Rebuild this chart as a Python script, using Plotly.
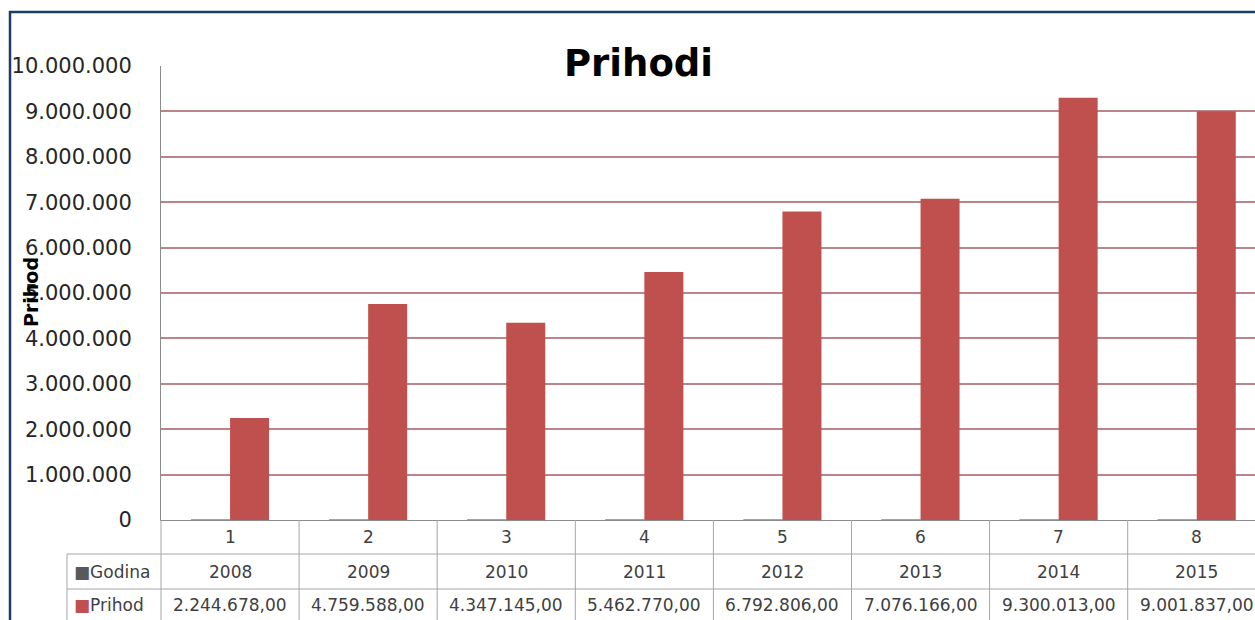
import plotly.graph_objects as go

# ---------------- data ----------------
categories = ["1", "2", "3", "4", "5", "6", "7", "8"]
godina = [2008, 2009, 2010, 2011, 2012, 2013, 2014, 2015]
prihod = [2244678.00, 4759588.00, 4347145.00, 5462770.00,
          6792806.00, 7076166.00, 9300013.00, 9001837.00]
y_ticks = [0, 1000000, 2000000, 3000000, 4000000, 5000000,
           6000000, 7000000, 8000000, 9000000, 10000000]
y_tick_labels = ["0", "1.000.000", "2.000.000", "3.000.000", "4.000.000",
                 "5.000.000", "6.000.000", "7.000.000", "8.000.000",
                 "9.000.000", "10.000.000"]
series_names = ["Godina", "Prihod"]
title_text = "Prihodi"
y_title = "Prihod"


def fmt_hr(v):
    s = f"{v:,.2f}"
    return s.replace(",", "X").replace(".", ",").replace("X", ".")


prihod_labels = [fmt_hr(v) for v in prihod]
godina_labels = [str(v) for v in godina]

# ---------------- geometry ----------------
W, H = 1255, 620
L, R, T, B = 161, 0, 66, 520          # plot area in px
PW = W - L - R
PH = B - T
CAT_W = 138.1                          # px per category
x0 = -0.5
x1 = x0 + PW / CAT_W


def xp(px):
    return (px - L) / PW


def yp(py):
    return (B - py) / PH


def xd2p(xd):
    return (xd - x0) / (x1 - x0)


RED = "#C0504D"
GRAY = "#595959"
TXT = "#333333"
LINE = "#A6A6A6"
FONT = "DejaVu Sans"

fig = go.Figure()
fig.add_trace(go.Bar(x=categories, y=godina, name=series_names[0],
                     marker=dict(color=GRAY, line=dict(color="#8C8C8C", width=1))))
fig.add_trace(go.Bar(x=categories, y=prihod, name=series_names[1],
                     marker=dict(color=RED, line=dict(width=0))))

shapes = []
# table vertical lines at category boundaries
for k in range(len(categories) + 1):
    xb = xd2p(k - 0.5)
    if xb > 1.0001:
        continue
    shapes.append(dict(type="line", xref="paper", yref="paper",
                       x0=xb, x1=xb, y0=yp(520), y1=yp(630),
                       line=dict(color=LINE, width=1)))
# table horizontal lines
for py in (554, 589):
    shapes.append(dict(type="line", xref="paper", yref="paper",
                       x0=xp(67), x1=1, y0=yp(py), y1=yp(py),
                       line=dict(color=LINE, width=1)))
# header column left edge
shapes.append(dict(type="line", xref="paper", yref="paper",
                   x0=xp(67), x1=xp(67), y0=yp(554), y1=yp(630),
                   line=dict(color=LINE, width=1)))
# chart border (dark blue, left and top)
shapes.append(dict(type="line", xref="paper", yref="paper",
                   x0=xp(10), x1=xp(10), y0=yp(11), y1=yp(630),
                   line=dict(color="#1F3B6E", width=2.5)))
shapes.append(dict(type="line", xref="paper", yref="paper",
                   x0=xp(9), x1=xp(1260), y0=yp(12), y1=yp(12),
                   line=dict(color="#1F3B6E", width=2.5)))

annotations = []
tfont = dict(family=FONT, size=17, color="#404040")
for i, c in enumerate(categories):
    xc = xd2p(i)
    annotations.append(dict(x=xc, y=yp(537), xref="paper", yref="paper",
                            text=c, showarrow=False, font=tfont,
                            xanchor="center", yanchor="middle"))
    annotations.append(dict(x=xc, y=yp(572), xref="paper", yref="paper",
                            text=godina_labels[i], showarrow=False, font=tfont,
                            xanchor="center", yanchor="middle"))
    annotations.append(dict(x=xc, y=yp(605), xref="paper", yref="paper",
                            text=prihod_labels[i], showarrow=False, font=tfont,
                            xanchor="center", yanchor="middle"))
# row headers with legend keys
for name, col, py in ((series_names[0], GRAY, 572), (series_names[1], RED, 605)):
    annotations.append(dict(x=xp(72), y=yp(py), xref="paper", yref="paper",
                            text=f"<span style='color:{col}'>■</span>{name}",
                            showarrow=False, font=tfont,
                            xanchor="left", yanchor="middle"))
# y axis title
annotations.append(dict(x=xp(31), y=yp(292), xref="paper", yref="paper",
                        text=f"<b>{y_title}</b>", showarrow=False, textangle=-90,
                        font=dict(family=FONT, size=19, color="#000000"),
                        xanchor="center", yanchor="middle"))
# chart title
annotations.append(dict(x=xp(638), y=yp(63), xref="paper", yref="paper",
                        text=f"<b>{title_text}</b>", showarrow=False,
                        font=dict(family=FONT, size=37, color="#000000"),
                        xanchor="center", yanchor="middle"))

fig.update_layout(
    width=W, height=H,
    margin=dict(l=L, r=R, t=T, b=H - B, pad=0),
    paper_bgcolor="white", plot_bgcolor="white",
    barmode="group", bargap=0.435, bargroupgap=0,
    showlegend=False,
    shapes=shapes, annotations=annotations,
    font=dict(family=FONT, color=TXT),
    xaxis=dict(range=[x0, x1], showticklabels=False, ticks="",
               showgrid=False, showline=True, linecolor="#8C8C8C", linewidth=1,
               zeroline=False, fixedrange=True),
    yaxis=dict(range=[0, 10000000], tickvals=y_ticks, ticktext=y_tick_labels,
               tickfont=dict(family=FONT, size=21, color="#262626"),
               showgrid=True, gridcolor="#B98589", gridwidth=1.8,
               showline=True, linecolor="#8C8C8C", linewidth=1,
               zeroline=False, ticks="", ticklabelstandoff=24,
               fixedrange=True),
)

fig.write_html("out.html",
               config={"displayModeBar": False},
               post_script="document.body.style.margin='0';document.body.style.overflow='hidden';")
